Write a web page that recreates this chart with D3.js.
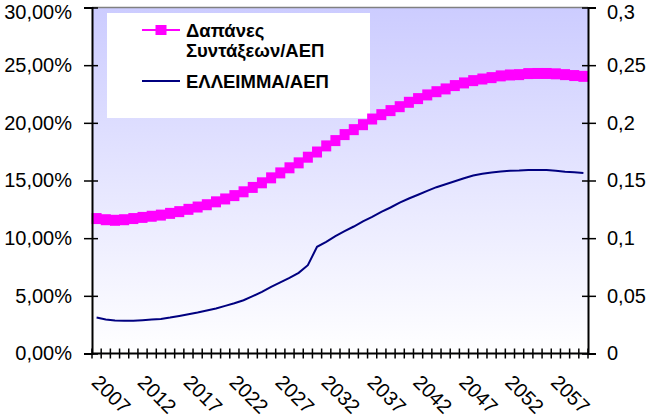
<!DOCTYPE html>
<html>
<head>
<meta charset="utf-8">
<script src="https://cdn.jsdelivr.net/npm/d3@7"></script>
<style>
  body { margin: 0; background: #fff; }
  text { font-family: "Liberation Sans", Arial, sans-serif; }
</style>
</head>
<body>
<div id="chart"></div>
<script>
const years = d3.range(2007, 2061);

// Δαπάνες Συντάξεων/ΑΕΠ (%), left axis
const pensions = [
  11.7, 11.6, 11.55, 11.6, 11.7, 11.8, 11.9, 12.0, 12.15, 12.3,
  12.5, 12.7, 12.9, 13.15, 13.4, 13.69, 14.02, 14.4, 14.8, 15.23,
  15.66, 16.1, 16.53, 17.02, 17.47, 18.0, 18.46, 18.98, 19.41, 19.84,
  20.33, 20.71, 21.06, 21.4, 21.78, 22.1, 22.42, 22.7, 22.94, 23.23,
  23.46, 23.66, 23.8, 23.92, 24.07, 24.15, 24.18, 24.27, 24.28, 24.28,
  24.25, 24.18, 24.1, 24.03
];

// ΕΛΛΕΙΜΜΑ/ΑΕΠ (ratio), right axis
const deficit = [
  0.0312, 0.0295, 0.0286, 0.0283, 0.0283, 0.0289, 0.0295, 0.0300, 0.0312, 0.0326,
  0.0341, 0.0355, 0.0373, 0.0390, 0.0413, 0.0436, 0.0462, 0.0497, 0.0534, 0.0578,
  0.0616, 0.0656, 0.0699, 0.0766, 0.0925, 0.0968, 0.1017, 0.1061, 0.1101, 0.1145,
  0.1185, 0.1228, 0.1266, 0.1309, 0.1344, 0.1376, 0.1410, 0.1442, 0.1468, 0.1494,
  0.1520, 0.1544, 0.1558, 0.1570, 0.1578, 0.1584, 0.1587, 0.1592, 0.1592, 0.1590,
  0.1584, 0.1575, 0.1572, 0.1566
];

const leftTicks = [0, 5, 10, 15, 20, 25, 30];
const rightTicks = [0, 0.05, 0.1, 0.15, 0.2, 0.25, 0.3];
const yearLabels = d3.range(2007, 2061, 5);

const width = 650;
const height = 417;
const margin = { top: 7.5, right: 62, bottom: 63.5, left: 92 };

const svg = d3.select('#chart')
  .append('svg')
  .attr('width', width)
  .attr('height', height);

const x = d3.scaleBand()
  .domain(years)
  .range([margin.left, width - margin.right]);

const yL = d3.scaleLinear()
  .domain([0, 30])
  .range([height - margin.bottom, margin.top]);

const yR = d3.scaleLinear()
  .domain([0, 0.3])
  .range([height - margin.bottom, margin.top]);

const cx = d => x(d) + x.bandwidth() / 2;

// plot background gradient
const grad = svg.append('defs').append('linearGradient')
  .attr('id', 'bg')
  .attr('x1', 0).attr('y1', 0).attr('x2', 0).attr('y2', 1);
grad.append('stop').attr('offset', '0%').attr('stop-color', '#ccccff');
grad.append('stop').attr('offset', '100%').attr('stop-color', '#ffffff');

svg.append('rect')
  .attr('x', margin.left)
  .attr('y', margin.top)
  .attr('width', width - margin.left - margin.right)
  .attr('height', height - margin.top - margin.bottom)
  .attr('fill', 'url(#bg)');

svg.append('line')
  .attr('x1', margin.left).attr('x2', width - margin.right)
  .attr('y1', margin.top).attr('y2', margin.top)
  .attr('stroke', '#808080')
  .attr('stroke-width', 1.5);

// legend box
svg.append('rect')
  .attr('x', 107).attr('y', 13)
  .attr('width', 263).attr('height', 105)
  .attr('fill', '#fff');

// deficit line
svg.append('path')
  .datum(deficit)
  .attr('fill', 'none')
  .attr('stroke', '#000080')
  .attr('stroke-width', 2)
  .attr('d', d3.line().x((d, i) => cx(years[i])).y(d => yR(d)));

// pensions line with square markers
svg.append('path')
  .datum(pensions)
  .attr('fill', 'none')
  .attr('stroke', '#ff00ff')
  .attr('stroke-width', 2)
  .attr('d', d3.line().x((d, i) => cx(years[i])).y(d => yL(d)));

svg.append('g')
  .attr('fill', '#ff00ff')
  .selectAll('rect')
  .data(pensions)
  .join('rect')
    .attr('x', (d, i) => cx(years[i]) - 5)
    .attr('y', d => yL(d) - 5.5)
    .attr('width', 10)
    .attr('height', 11);

// axes
function leftAxis(g) {
  g.attr('transform', `translate(${margin.left},0)`)
    .call(d3.axisLeft(yL).tickValues(leftTicks)
      .tickFormat(d => d3.format('.2f')(d).replace('.', ',') + '%')
      .tickSize(8).tickPadding(12))
    .call(g => g.select('.domain').attr('stroke-width', 2))
    .call(g => g.selectAll('.tick line').attr('x1', 6).attr('stroke-width', 1.5))
    .call(g => g.selectAll('.tick text').filter(d => d === 30).attr('dy', '0.55em'))
    .attr('font-size', '20px')
    .attr('font-family', '"Liberation Sans", Arial, sans-serif');
}

function rightAxis(g) {
  g.attr('transform', `translate(${width - margin.right},0)`)
    .call(d3.axisRight(yR).tickValues(rightTicks)
      .tickFormat(d => String(+d.toFixed(2)).replace('.', ','))
      .tickSize(8).tickPadding(11))
    .call(g => g.select('.domain').attr('stroke-width', 2))
    .call(g => g.selectAll('.tick line').attr('x1', -6).attr('stroke-width', 1.5))
    .call(g => g.selectAll('.tick text').filter(d => d === 0.3).attr('dy', '0.55em'))
    .attr('font-size', '20px')
    .attr('font-family', '"Liberation Sans", Arial, sans-serif');
}

function bottomAxis(g) {
  const base = height - margin.bottom;
  g.append('line')
    .attr('x1', margin.left).attr('x2', width - margin.right)
    .attr('y1', base).attr('y2', base)
    .attr('stroke', '#000').attr('stroke-width', 2);
  g.selectAll('line.tk')
    .data(d3.range(years.length + 1))
    .join('line')
      .attr('class', 'tk')
      .attr('x1', i => margin.left + i * x.step())
      .attr('x2', i => margin.left + i * x.step())
      .attr('y1', base - 5).attr('y2', base + 5)
      .attr('stroke', '#000').attr('stroke-width', 1.5);
  g.selectAll('text')
    .data(yearLabels)
    .join('text')
      .attr('transform', d => `translate(${cx(d) - 6},${base + 30}) rotate(45)`)
      .attr('font-size', '20px')
      .attr('fill', '#000')
      .text(d => d);
}

svg.append('g').call(bottomAxis);
svg.append('g').call(leftAxis);
svg.append('g').call(rightAxis);

// legend entries
const legend = svg.append('g')
  .attr('font-size', '18.5px')
  .attr('font-weight', 'bold');

legend.append('line')
  .attr('x1', 142).attr('x2', 180).attr('y1', 30).attr('y2', 30)
  .attr('stroke', '#ff00ff').attr('stroke-width', 2);
legend.append('rect')
  .attr('x', 155.5).attr('y', 25).attr('width', 11).attr('height', 10)
  .attr('fill', '#ff00ff');
legend.append('text').attr('x', 186).attr('y', 37).text('Δαπάνες');
legend.append('text').attr('x', 186).attr('y', 57).text('Συντάξεων/ΑΕΠ');

legend.append('line')
  .attr('x1', 142).attr('x2', 180).attr('y1', 81).attr('y2', 81)
  .attr('stroke', '#000080').attr('stroke-width', 2);
legend.append('text').attr('x', 186).attr('y', 88).text('ΕΛΛΕΙΜΜΑ/ΑΕΠ');
</script>
</body>
</html>
